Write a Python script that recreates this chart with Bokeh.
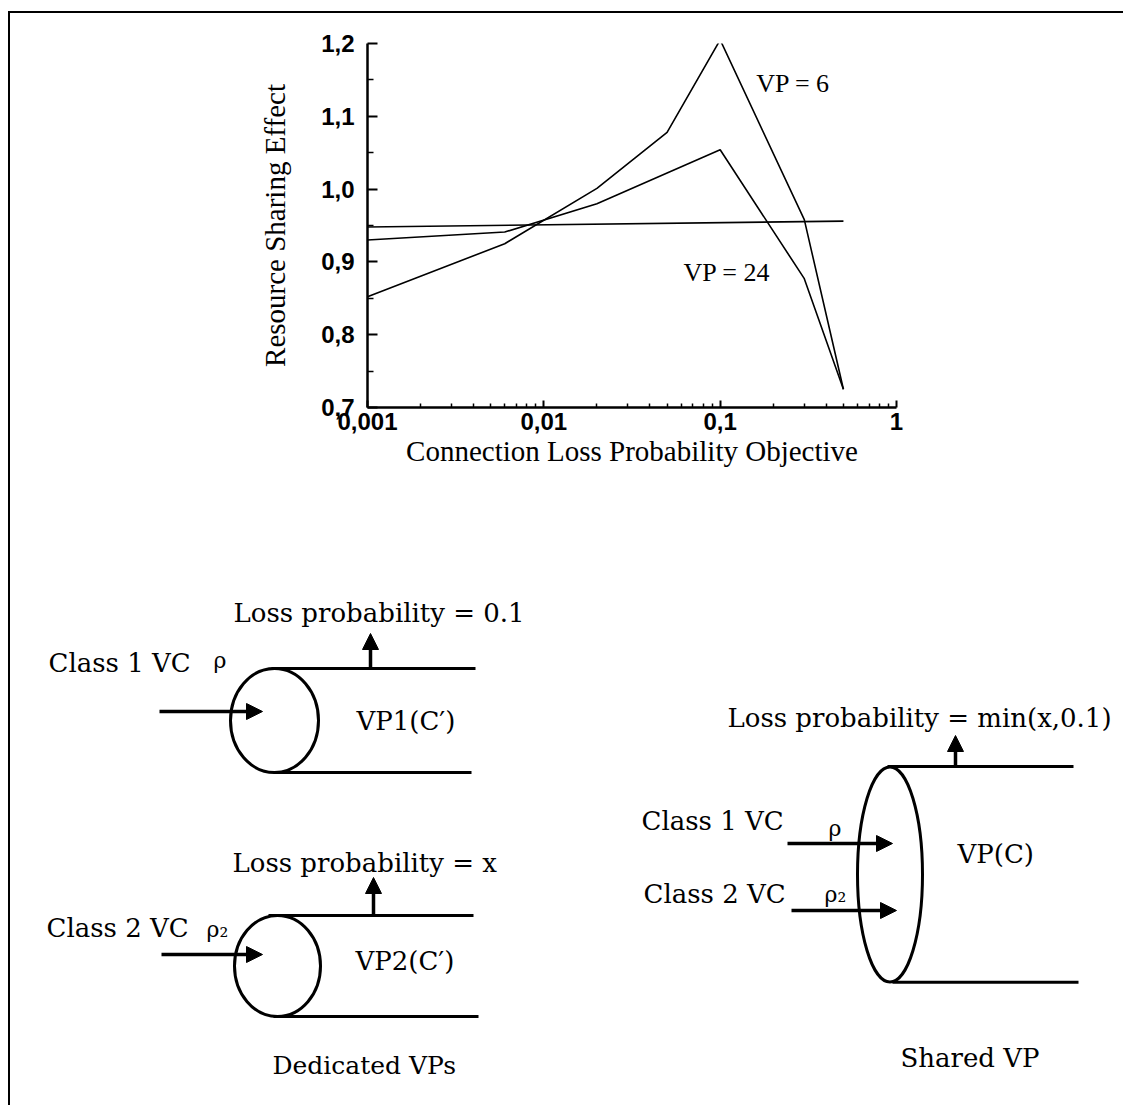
from bokeh.plotting import figure
from bokeh.models import (Range1d, FixedTicker, CustomJSTickFormatter, Label, Arrow,
                          NormalHead, ColumnDataSource)
from bokeh.layouts import column
from bokeh.embed import file_html
from bokeh.resources import INLINE
from bokeh.core.properties import value, field

# ---------------- chart data ----------------
loss_objective = [0.001, 0.006, 0.02, 0.05, 0.1, 0.3, 0.5]
effect_vp6 = [0.852, 0.925, 1.001, 1.078, 1.205, 0.958, 0.725]
effect_vp24 = [0.930, 0.941, 0.980, 1.022, 1.054, 0.877, 0.725]
flat_x = [0.001, 0.5]
flat_y = [0.948, 0.956]

x_major_ticks = [0.001, 0.01, 0.1, 1]
x_minor_ticks = [2e-3, 3e-3, 4e-3, 5e-3, 6e-3, 7e-3, 8e-3, 9e-3,
                 2e-2, 3e-2, 4e-2, 5e-2, 6e-2, 7e-2, 8e-2, 9e-2,
                 0.2, 0.3, 0.4, 0.5, 0.6, 0.7, 0.8, 0.9]
y_major_ticks = [0.7, 0.8, 0.9, 1.0, 1.1, 1.2]
y_minor_ticks = [0.75, 0.85, 0.95, 1.05, 1.15]

curve_labels = ["VP = 6", "VP = 24"]
curve_label_x = [0.16, 0.062]
curve_label_y = [1.145, 0.886]

# ---------------- diagram data (page pixel layout) ----------------
pipe_x0 = [271, 273, 268, 273, 887, 892]
pipe_y0 = [668, 772, 915, 1016, 766, 981.7]
pipe_x1 = [475, 471, 473, 478, 1073, 1078]
pipe_y1 = [668, 772, 915, 1016, 766, 981.7]

ell_x = [274, 277, 889.5]
ell_y = [720, 965.5, 874]
ell_w = [88, 86, 65]
ell_h = [104, 101, 215]

in_x0 = [159, 161, 787, 791]
in_x1 = [262, 262, 892, 896]
in_y = [711, 954, 843, 910]

up_x = [370, 373, 955]
up_y0 = [668, 915, 766]
up_y1 = [633, 877, 735]

diag_text = ["Loss probability = 0.1", "Class 1 VC", "ρ", "VP1(C′)",
             "Loss probability = x", "Class 2 VC", "ρ₂", "VP2(C′)", "Dedicated VPs",
             "Loss probability = min(x,0.1)", "Class 1 VC", "ρ", "Class 2 VC", "ρ₂",
             "VP(C)", "Shared VP"]
diag_x = [233, 48, 213, 356, 232, 46, 206, 355, 272, 727, 641, 828, 643, 824, 957, 900]
diag_y = [612, 662, 660, 720, 862, 927, 929, 960, 1065, 717, 820, 828, 893, 894, 853, 1057]
diag_size = ["26px", "26px", "22px", "26px", "26px", "26px", "22px", "26px", "25px",
             "26px", "26px", "22px", "26px", "22px", "26px", "26px"]

W = 1113
X0, Y0 = 10, 13          # page position of the layout content
TOP_H = 487
BOT_H = 605

# ---------------- top chart ----------------
top = figure(width=W, height=TOP_H, x_axis_type="log",
             x_range=Range1d(0.001, 1), y_range=Range1d(0.7, 1.2),
             output_backend="svg", toolbar_location=None,
             min_border_left=357, min_border_right=W - 886,
             min_border_top=30, min_border_bottom=93)
top.frame_align = False
top.outline_line_color = None
top.xgrid.visible = False
top.ygrid.visible = False

top.line(loss_objective, effect_vp6, line_color="black", line_width=1.6)
top.line(loss_objective, effect_vp24, line_color="black", line_width=1.6)
top.line(flat_x, flat_y, line_color="black", line_width=1.6)

for t, lx, ly in zip(curve_labels, curve_label_x, curve_label_y):
    top.add_layout(Label(x=lx, y=ly, text=t, text_font="Liberation Serif",
                         text_font_size="26px", text_baseline="middle",
                         text_color="black"))

xa = top.xaxis[0]
xa.ticker = FixedTicker(ticks=x_major_ticks, minor_ticks=x_minor_ticks)
xa.formatter = CustomJSTickFormatter(code="return String(tick).replace('.', ',');")
ya = top.yaxis[0]
ya.ticker = FixedTicker(ticks=y_major_ticks, minor_ticks=y_minor_ticks)
ya.formatter = CustomJSTickFormatter(code="return tick.toFixed(1).replace('.', ',');")

for ax in (xa, ya):
    ax.axis_line_width = 2.5
    ax.axis_line_color = "black"
    ax.major_tick_out = 0
    ax.minor_tick_out = 0
    ax.major_tick_line_width = 2
    ax.minor_tick_line_width = 1.5
    ax.major_tick_line_color = "black"
    ax.minor_tick_line_color = "black"
    ax.major_label_text_font = "Liberation Sans"
    ax.major_label_text_font_style = "bold"
    ax.major_label_text_font_size = "24px"
    ax.major_label_text_color = "black"
    ax.axis_label_text_font = "Liberation Serif"
    ax.axis_label_text_font_style = "normal"
    ax.axis_label_text_font_size = "29px"
    ax.axis_label_text_color = "black"

xa.major_tick_in = 7
xa.minor_tick_in = 4
xa.major_label_standoff = 5
xa.axis_label = "Connection Loss Probability Objective"
xa.axis_label_standoff = 2
ya.major_tick_in = 10
ya.minor_tick_in = 6
ya.major_label_standoff = 13
ya.axis_label = "Resource Sharing Effect"
ya.axis_label_standoff = 27

# ---------------- bottom diagrams ----------------
bot = figure(width=W, height=BOT_H,
             x_range=Range1d(X0, X0 + W), y_range=Range1d(Y0 + TOP_H + BOT_H, Y0 + TOP_H),
             output_backend="svg", toolbar_location=None,
             x_axis_type=None, y_axis_type=None,
             min_border=0, min_border_left=0, min_border_right=0,
             min_border_top=0, min_border_bottom=0)
bot.frame_align = False
bot.outline_line_color = None
bot.xgrid.visible = False
bot.ygrid.visible = False

bot.segment(pipe_x0, pipe_y0, pipe_x1, pipe_y1, line_color="black", line_width=3)
bot.ellipse(x=ell_x, y=ell_y, width=ell_w, height=ell_h, fill_color=None,
            line_color="black", line_width=3)

in_src = ColumnDataSource(dict(x0=in_x0, x1=in_x1, y=in_y))
bot.add_layout(Arrow(source=in_src, x_start="x0", y_start="y", x_end="x1", y_end="y",
                     line_width=3.5, line_color="black",
                     end=NormalHead(size=16, fill_color="black", line_color="black",
                                    line_width=1)))
up_src = ColumnDataSource(dict(x=up_x, y0=up_y0, y1=up_y1))
bot.add_layout(Arrow(source=up_src, x_start="x", y_start="y0", x_end="x", y_end="y1",
                     line_width=3.5, line_color="black",
                     end=NormalHead(size=16, fill_color="black", line_color="black",
                                    line_width=1)))

txt_src = ColumnDataSource(dict(x=diag_x, y=diag_y, t=diag_text, s=diag_size))
bot.text(x="x", y="y", text="t", source=txt_src, text_font=value("DejaVu Serif"),
         text_font_size=field("s"), text_baseline="middle", text_align="left",
         text_color="black")

layout = column(top, bot, styles={"border-left": "2px solid black",
                                  "border-top": "2px solid black",
                                  "margin-left": "8px",
                                  "margin-top": "11px"})

open("out.html", "w").write(file_html(layout, INLINE))
